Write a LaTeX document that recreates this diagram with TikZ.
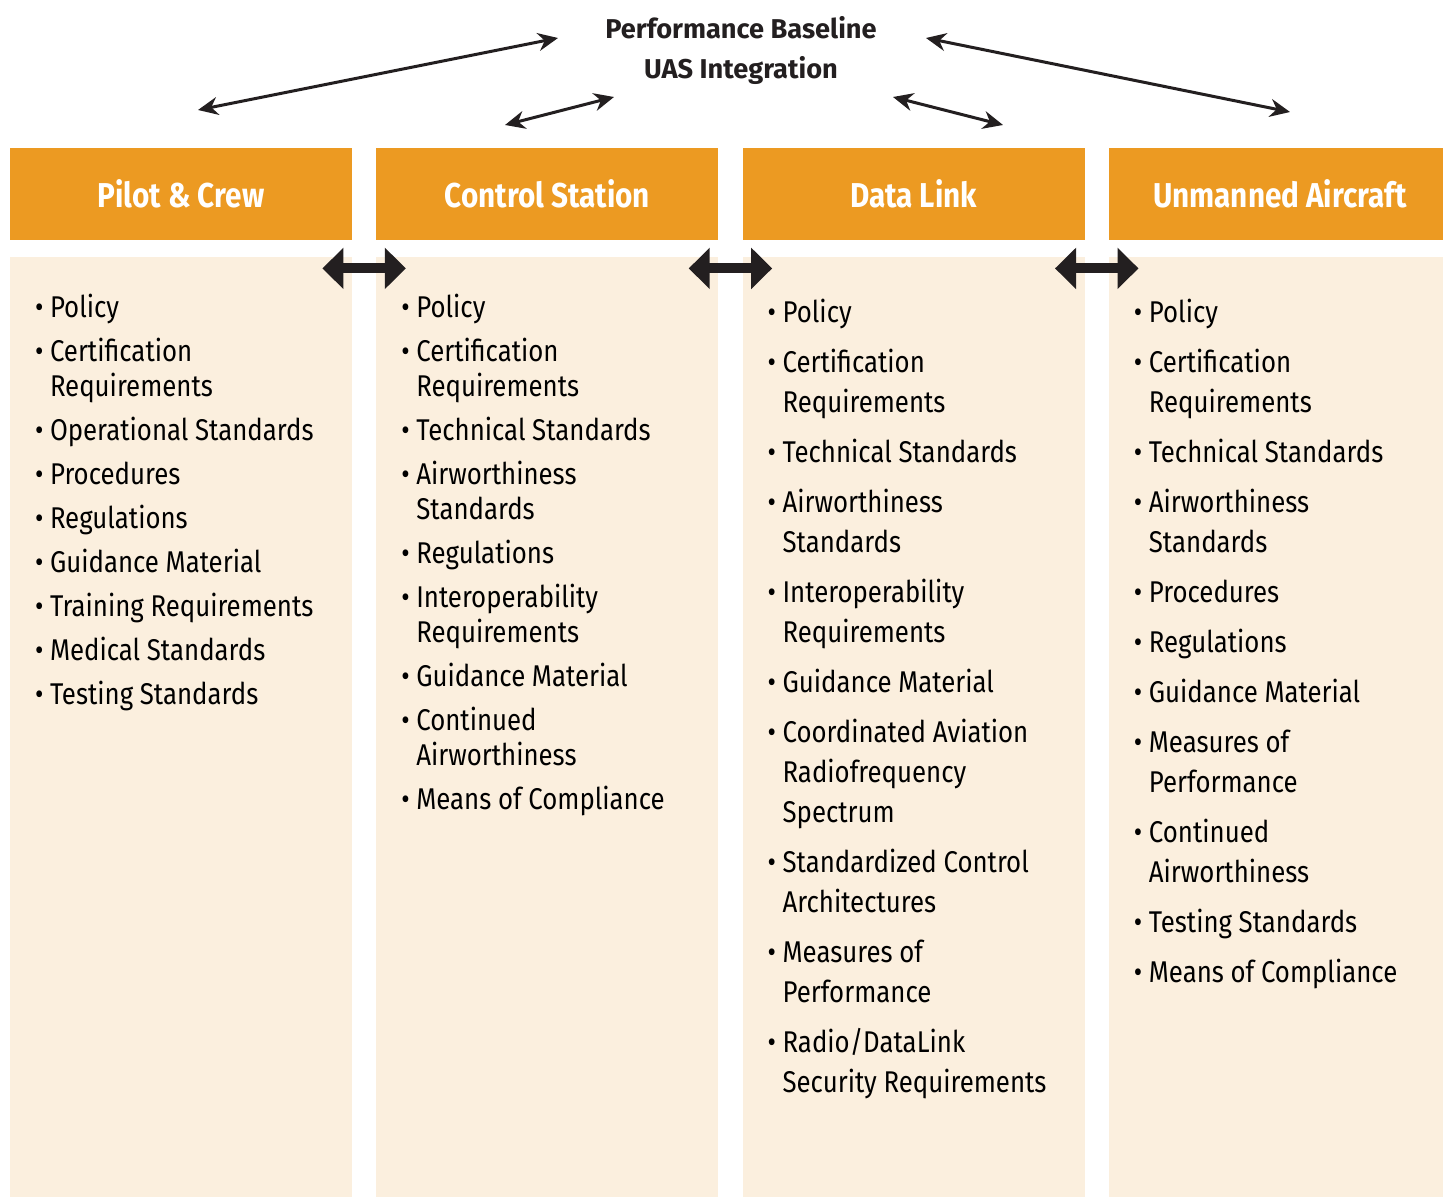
\documentclass[tikz,border=0pt]{standalone}
\usepackage{fontspec}
\setmainfont{Fira Sans}[FakeStretch=0.86]
\newfontfamily\titleface{Fira Sans}
\usetikzlibrary{positioning,arrows.meta}
\definecolor{headorange}{RGB}{236,154,34}
\definecolor{bodycream}{RGB}{251,239,222}
\definecolor{inkdark}{RGB}{35,31,32}
% list of requirements, #1 = baselineskip, #2 = extra space between items
\newenvironment{reqlist}[2]{%
  \fontsize{15pt}{#1}\selectfont\raggedright\setlength{\parskip}{0pt}%
  \begin{list}{\makebox[0pt][l]{\textbullet}}{%
    \setlength{\leftmargin}{7.5pt}\setlength{\labelwidth}{0pt}%
    \setlength{\labelsep}{7.5pt}\setlength{\itemsep}{#2}%
    \setlength{\parsep}{0pt}\setlength{\topsep}{0pt}%
    \setlength{\partopsep}{0pt}}}{\end{list}}
\tikzset{
  >={Stealth[length=10pt,width=9pt]},
  header/.style={
    rectangle,
    fill=headorange,
    text=white,
    font=\fontsize{17.25pt}{20pt}\selectfont\bfseries,
    minimum width=171pt,
    minimum height=46pt,
    inner sep=0pt},
  body/.style={
    rectangle,
    fill=bodycream,
    minimum width=171pt,
    minimum height=472pt,
    inner sep=0pt},
  items/.style={
    anchor=north west,
    text width=165pt,
    inner sep=0pt},
  line/.style={draw=inkdark, line width=1.5pt, <->},
  bigarrow/.style={draw=inkdark, line width=5pt,
    {Triangle[length=10.5pt,width=20pt]}-{Triangle[length=10.5pt,width=20pt]}},
}

\begin{document}
\begin{tikzpicture}[x=0.5pt,y=-0.5pt]
  \useasboundingbox (0,0) rectangle (1443,1197);
  % column headers
  \node[header] (pilot) at (181,194) {Pilot \& Crew};
  \node[header, right=11.75pt of pilot] (control) {Control Station};
  \node[header, right=11.75pt of control] (datalink) {Data Link};
  \node[header, right=11.75pt of datalink] (aircraft) {Unmanned Aircraft};
  % column bodies
  \node[body, below=8pt of pilot, anchor=north] (pilotbody) {};
  \node[body, below=8pt of control, anchor=north] (controlbody) {};
  \node[body, below=8pt of datalink, anchor=north] (datalinkbody) {};
  \node[body, below=8pt of aircraft, anchor=north] (aircraftbody) {};
  % requirement lists
  \node[items] (pilotlist) at ([xshift=12.5pt,yshift=-13pt]pilotbody.north west) {%
    \begin{reqlist}{17.5pt}{4.5pt}
    \item Policy
    \item Certification\\Requirements
    \item Operational Standards
    \item Procedures
    \item Regulations
    \item Guidance Material
    \item Training Requirements
    \item Medical Standards
    \item Testing Standards
    \end{reqlist}};
  \node[items] (controllist) at ([xshift=12.5pt,yshift=-13pt]controlbody.north west) {%
    \begin{reqlist}{17.5pt}{4.5pt}
    \item Policy
    \item Certification\\Requirements
    \item Technical Standards
    \item Airworthiness\\Standards
    \item Regulations
    \item Interoperability\\Requirements
    \item Guidance Material
    \item Continued\\Airworthiness
    \item Means of Compliance
    \end{reqlist}};
  \node[items] (datalinklist) at ([xshift=12.5pt,yshift=-13pt]datalinkbody.north west) {%
    \begin{reqlist}{20pt}{5pt}
    \item Policy
    \item Certification\\Requirements
    \item Technical Standards
    \item Airworthiness\\Standards
    \item Interoperability\\Requirements
    \item Guidance Material
    \item Coordinated Aviation\\Radiofrequency\\Spectrum
    \item Standardized Control\\Architectures
    \item Measures of\\Performance
    \item Radio/DataLink\\Security Requirements
    \end{reqlist}};
  \node[items] (aircraftlist) at ([xshift=12.5pt,yshift=-13pt]aircraftbody.north west) {%
    \begin{reqlist}{20pt}{5pt}
    \item Policy
    \item Certification\\Requirements
    \item Technical Standards
    \item Airworthiness\\Standards
    \item Procedures
    \item Regulations
    \item Guidance Material
    \item Measures of\\Performance
    \item Continued\\Airworthiness
    \item Testing Standards
    \item Means of Compliance
    \end{reqlist}};
  % links between columns
  \draw[bigarrow] ([xshift=-15pt,yshift=-6pt]pilotbody.north east) -- ([xshift=15pt,yshift=-6pt]controlbody.north west);
  \draw[bigarrow] ([xshift=-15pt,yshift=-6pt]controlbody.north east) -- ([xshift=15pt,yshift=-6pt]datalinkbody.north west);
  \draw[bigarrow] ([xshift=-15pt,yshift=-6pt]datalinkbody.north east) -- ([xshift=15pt,yshift=-6pt]aircraftbody.north west);
  % baseline title and its arrows
  \node[font=\titleface\fontsize{13.6pt}{20pt}\selectfont\bfseries, text=inkdark, align=center] (baseline) at (741,50) {Performance Baseline\\UAS Integration};
  \coordinate (pilottip) at (198,110);
  \coordinate (controltip) at (505,125);
  \coordinate (datalinktip) at (1003,125);
  \coordinate (aircrafttip) at (1290,112);
  \coordinate (baseleft) at (558,38);
  \coordinate (baseinner) at (614,97);
  \coordinate (baseinnerr) at (893,97);
  \coordinate (baseright) at (926,38);
  \draw[line] (pilottip) -- (baseleft);
  \draw[line] (controltip) -- (baseinner);
  \draw[line] (baseinnerr) -- (datalinktip);
  \draw[line] (baseright) -- (aircrafttip);
\end{tikzpicture}
\end{document}
